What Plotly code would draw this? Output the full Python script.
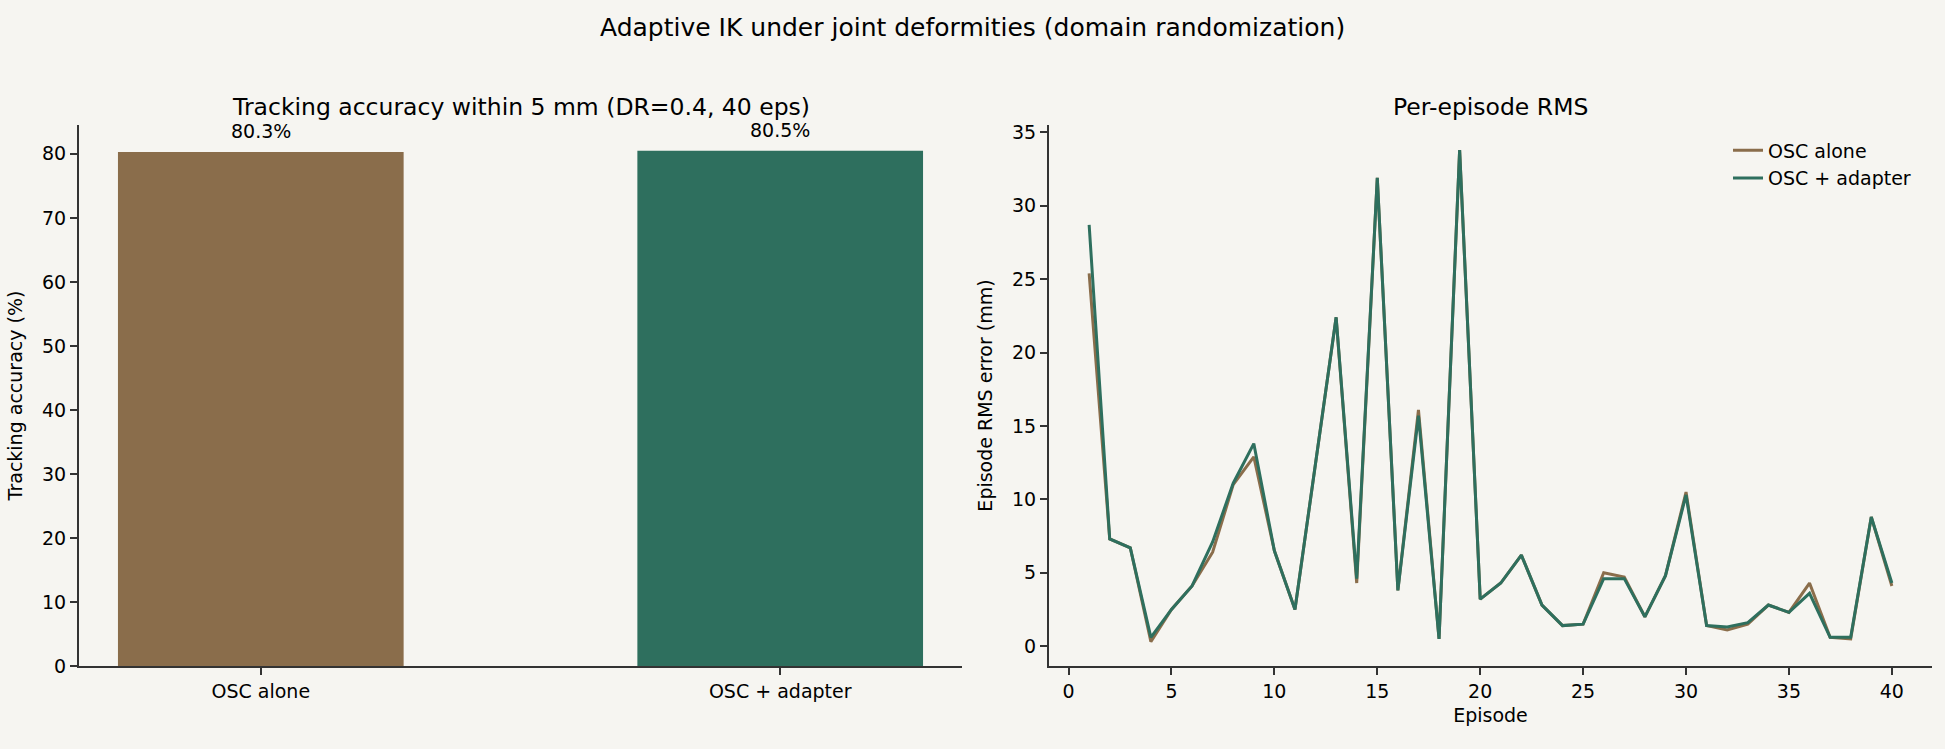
import plotly.graph_objects as go

# bar panel
methods = ["OSC alone", "OSC + adapter"]
accuracy = [80.3, 80.5]

# per-episode RMS error (mm)
episodes = list(range(1, 41))
rms_alone = [25.4, 7.3, 6.7, 0.3, 2.5, 4.1, 6.4, 11.0, 12.9, 6.5,
             2.5, 12.4, 22.4, 4.3, 31.9, 3.8, 16.1, 0.5, 33.8, 3.2,
             4.3, 6.2, 2.8, 1.4, 1.5, 5.0, 4.7, 2.0, 4.8, 10.5,
             1.4, 1.1, 1.5, 2.8, 2.3, 4.3, 0.6, 0.5, 8.8, 4.1]
rms_adapter = [28.7, 7.3, 6.7, 0.6, 2.5, 4.1, 7.1, 11.1, 13.8, 6.5,
               2.5, 12.4, 22.4, 4.6, 31.9, 3.8, 15.7, 0.5, 33.8, 3.2,
               4.3, 6.2, 2.8, 1.4, 1.5, 4.6, 4.6, 2.0, 4.8, 10.3,
               1.4, 1.3, 1.6, 2.8, 2.3, 3.6, 0.6, 0.6, 8.8, 4.3]

BROWN = "#8a6d4b"
GREEN = "#2e6f5e"
BG = "#f6f5f1"
AXC = "#333333"
FONT = "DejaVu Sans"

W, H = 1945, 749

fig = go.Figure()

fig.add_trace(go.Bar(
    x=methods, y=accuracy, width=0.55,
    marker=dict(color=[BROWN, GREEN], line=dict(width=0)),
    showlegend=False, xaxis="x", yaxis="y",
))

fig.add_trace(go.Scatter(
    x=episodes, y=rms_alone, mode="lines", name="OSC alone",
    line=dict(color=BROWN, width=3), xaxis="x2", yaxis="y2",
))
fig.add_trace(go.Scatter(
    x=episodes, y=rms_adapter, mode="lines", name="OSC + adapter",
    line=dict(color=GREEN, width=3), xaxis="x2", yaxis="y2",
))

# value labels above the bars
for m, v in zip(methods, accuracy):
    fig.add_annotation(x=m, y=v, xref="x", yref="y", text=f"{v:.1f}%",
                       showarrow=False, yanchor="bottom", yshift=8,
                       font=dict(size=19, family=FONT, color="black"))

ydom = [1 - 675.5 / H, 1 - 123.5 / H]
axis_common = dict(
    showline=True, linecolor=AXC, linewidth=2, showgrid=False, zeroline=False,
    ticks="outside", ticklen=7, tickwidth=1.6, tickcolor=AXC,
    tickfont=dict(size=19, color="black", family=FONT),
)

fig.update_layout(
    width=W, height=H,
    margin=dict(l=0, r=0, t=0, b=0),
    paper_bgcolor=BG, plot_bgcolor=BG,
    font=dict(family=FONT, color="black"),
    xaxis=dict(domain=[79 / W, 962 / W], range=[-0.35, 1.35],
               type="category", anchor="y", **axis_common),
    yaxis=dict(domain=ydom, range=[0, 84.5], tick0=0, dtick=10, anchor="x",
               title=dict(text="Tracking accuracy (%)", font=dict(size=19), standoff=14),
               **axis_common),
    xaxis2=dict(domain=[1049 / W, 1932 / W], range=[-0.95, 41.95], tick0=0, dtick=5,
                anchor="y2",
                title=dict(text="Episode", font=dict(size=19), standoff=8),
                **axis_common),
    yaxis2=dict(domain=ydom, range=[-1.35, 35.5], tick0=0, dtick=5, anchor="x2",
                title=dict(text="Episode RMS error (mm)", font=dict(size=19), standoff=14),
                **axis_common),
    legend=dict(x=1728 / W, y=1 - 130 / H, xanchor="left", yanchor="top",
                bgcolor="rgba(0,0,0,0)", font=dict(size=19, family=FONT)),
)

fig.add_annotation(text="Adaptive IK under joint deformities (domain randomization)",
                   x=0.5, y=1 - 24 / H, xref="paper", yref="paper",
                   xanchor="center", yanchor="middle", showarrow=False,
                   font=dict(size=25, family=FONT))
fig.add_annotation(text="Tracking accuracy within 5 mm (DR=0.4, 40 eps)",
                   x=(79 + 962) / 2 / W, y=1 - 105 / H, xref="paper", yref="paper",
                   xanchor="center", yanchor="middle", showarrow=False,
                   font=dict(size=23.5, family=FONT))
fig.add_annotation(text="Per-episode RMS",
                   x=(1049 + 1932) / 2 / W, y=1 - 105 / H, xref="paper", yref="paper",
                   xanchor="center", yanchor="middle", showarrow=False,
                   font=dict(size=23.5, family=FONT))

# drop the default page margin so the figure fills the window
fig.write_html("out.html", post_script="document.body.style.margin='0';",
               config={"displayModeBar": False})
